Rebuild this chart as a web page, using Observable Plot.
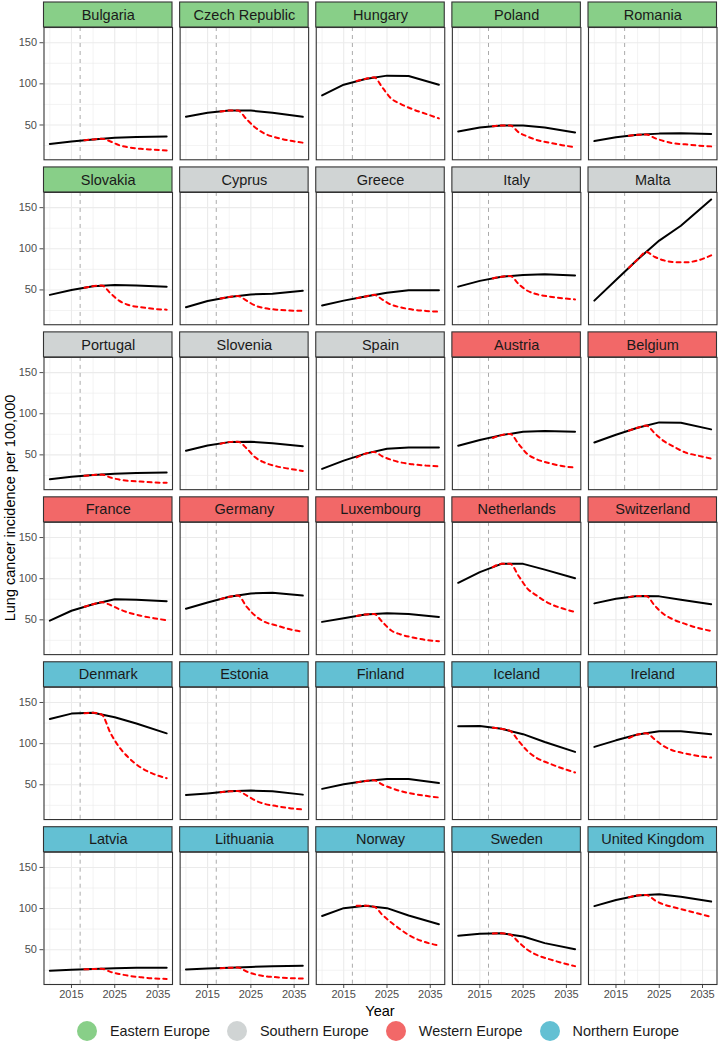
<!DOCTYPE html>
<html>
<head>
<meta charset="utf-8">
<script src="https://cdn.jsdelivr.net/npm/d3@7"></script>
<script src="https://cdn.jsdelivr.net/npm/@observablehq/plot@0.6"></script>
<style>
  body { margin: 0; background: #fff; font-family: "Liberation Sans", Arial, Helvetica, sans-serif; }
  #wrap { position: relative; width: 719px; height: 1043px; overflow: hidden; }
  #chart { position: absolute; left: 0; top: 0; }
  #ylab { position: absolute; left: 10px; top: 508px; transform: translate(-50%, -50%) rotate(-90deg);
          font-size: 14.5px; white-space: nowrap; color: #000; }
  #xlab { position: absolute; left: 380px; top: 1011px; transform: translate(-50%, -50%);
          font-size: 14.5px; color: #000; }
  #legend { position: absolute; left: 77px; top: 1031px; transform: translateY(-50%);
            display: flex; align-items: center; gap: 17px; font-size: 14.4px; color: #1a1a1a; }
  .item { display: flex; align-items: center; }
  .dot { width: 20px; height: 20px; border-radius: 50%; margin-right: 13px; }
</style>
</head>
<body>
<div id="wrap">
  <div id="chart"></div>
  <div id="ylab">Lung cancer incidence per 100,000</div>
  <div id="xlab">Year</div>
  <div id="legend"></div>
</div>
<script>
// ---------- data ----------
const countries = ["Bulgaria","Czech Republic","Hungary","Poland","Romania",
  "Slovakia","Cyprus","Greece","Italy","Malta",
  "Portugal","Slovenia","Spain","Austria","Belgium",
  "France","Germany","Luxembourg","Netherlands","Switzerland",
  "Denmark","Estonia","Finland","Iceland","Ireland",
  "Latvia","Lithuania","Norway","Sweden","United Kingdom"];
const regions = ["Eastern Europe","Eastern Europe","Eastern Europe","Eastern Europe","Eastern Europe",
  "Eastern Europe","Southern Europe","Southern Europe","Southern Europe","Southern Europe",
  "Southern Europe","Southern Europe","Southern Europe","Western Europe","Western Europe",
  "Western Europe","Western Europe","Western Europe","Western Europe","Western Europe",
  "Northern Europe","Northern Europe","Northern Europe","Northern Europe","Northern Europe",
  "Northern Europe","Northern Europe","Northern Europe","Northern Europe","Northern Europe"];
const regionNames = ["Eastern Europe","Southern Europe","Western Europe","Northern Europe"];
const regionColors = ["#88CF88","#D0D4D4","#F26868","#63C0D3"];

// solid black line (projection)
const projYears = [2010, 2015, 2020, 2025, 2030, 2037];
const projected = [
  [27,30,32.5,34.5,35.5,36],
  [60,65,67.5,67.5,65,60],
  [86,99,106,110,109.5,99],
  [42,47,49.5,49.5,47,41],
  [30.5,35,38,39.5,40,39],
  [44,50,54.5,56,55.5,54],
  [29,36.5,41.5,44.5,45.5,49],
  [31,37,42,46.5,49.5,49.5],
  [54,61,66,68,69,67.5],
  [37,62,87,110,128,160],
  [20.5,23.5,25.5,27,28,28.5],
  [55,61.5,65.5,66,64,60.5],
  [33,43,51.5,57.5,59,59],
  [61,68,74,78,79,78],
  [65,74.5,83,89.5,89,81],
  [49,61,69,75,74.5,72.5],
  [63.5,71,78,82,83,79.5],
  [47.5,52,56.5,58,57,53.5],
  [95,108,118,118,111,100.5],
  [70,75.5,79,78.5,74.5,69],
  [130,136.5,137.5,132,124.5,112.5],
  [37.5,39.5,42,43,42,38],
  [45,50.5,54.5,57,57,52],
  [121,121.5,118,111.5,102,90],
  [96,104,111,115,115,111.5],
  [24.5,25.5,26.5,27.5,28,28],
  [26,27,28,29,30,30.5],
  [91,100.5,103.5,100.5,91.5,81],
  [67,69.5,70,66,58,50.5],
  [103,110.5,116,117.5,114.5,108.5]
];

// red dashed line (scenario)
const scenYears = [2018, 2020, 2022, 2024, 2026, 2028, 2031, 2034, 2037];
const scenario = [
  [31.5,32.5,33.3,30,25.5,23,21,20,19],
  [66.5,67.5,67.5,57,47,40,34.5,31,28.5],
  [103.5,106,108,95,82,76,69,63.5,58],
  [48.5,49.5,49.5,41,36,32,28.5,25.5,23],
  [37,38,38.5,34,30.5,28,26.5,25,24],
  [52.7,54.5,55.5,46,37,32,29,27,26],
  [39.5,41.5,42.7,37,31,28,26,25,24.5],
  [40,42,44,38,32,29,26,24.5,23.5],
  [64,66,67,57,49,45,42,40,38.5],
  [77,87,96,90,86,84,83.5,86,92],
  [24.5,25.5,26,22.5,20,18.5,17.5,16.5,16],
  [63.5,65.5,66,58,47,41,36,33,30.5],
  [47,51.5,53.5,48,44,41,38.5,37,36],
  [70.5,74,75.5,63,51,45,40,36.5,34.5],
  [79.5,83,85.6,76,67,61,53,49,45.5],
  [65.8,69,71.4,68,63,59,55,52,49.5],
  [75.2,78,79.6,66,55,48,43,38.5,35.5],
  [54.7,56.5,57.1,47,37,32.5,28.5,25.5,24],
  [114,118,118,103,88,80,70,64,59.5],
  [77.6,79,78.8,67,57,51,45,40,36.5],
  [137,137.5,135.3,113,96,84,71,63,58],
  [41,42,42.4,37,31,27,24,21.5,20],
  [52.9,54.5,55.5,50,46,42.5,39,36.5,34.5],
  [119.4,118,115.4,103,91,83,76,70,65],
  [106.8,111,112.6,105,97,92,88,85,83],
  [26.1,26.5,26.9,23,20.5,18.5,16.5,15,14.5],
  [27.6,28,28.4,23.5,20,18,16.5,15.5,15],
  [103.3,103.5,102.3,92,83,75,65,59,55],
  [69.8,70,68.4,59,50,44,38.5,34,30],
  [113.8,116,116.6,110,105,102,98,94,90]
];

const refYear = [2017];
const xTicks = [2015, 2025, 2035];
const xMinor = [2010, 2020, 2030];
const yTicks = [50, 100, 150];
const yMinor = [25, 75, 125];

// ---------- build tables ----------
const nCols = 5;
const panels = countries.map((c, i) => ({country: c, region: regions[i], col: i % nCols, row: Math.floor(i / nCols)}));
const projRows = panels.flatMap((p, i) => projYears.map((yr, j) => ({...p, year: yr, value: projected[i][j]})));
const scenRows = panels.flatMap((p, i) => scenYears.map((yr, j) => ({...p, year: yr, value: scenario[i][j]})));

const xDom = [2008.65, 2038.35];
const yDom = [7.7, 168.5];
const gridCol = "#EBEBEB";
const borderCol = "#333333";

const chart = Plot.plot({
  width: 719,
  height: 1003,
  marginTop: 27,
  marginLeft: 43.5,
  marginRight: 2.5,
  marginBottom: 19,
  style: {fontFamily: '"Liberation Sans", Arial, Helvetica, sans-serif', fontSize: "11px", color: "#4D4D4D", background: "white"},
  fx: {axis: null, domain: d3.range(5), paddingInner: 0.056, paddingOuter: 0, round: false},
  fy: {axis: null, domain: d3.range(6), paddingInner: 0.198, paddingOuter: 0, round: false},
  x: {domain: xDom, ticks: xTicks, tickFormat: "d", label: null, tickSize: 4, tickPadding: 2},
  y: {domain: yDom, ticks: yTicks, label: null, tickSize: 4, tickPadding: 3},
  color: {domain: regionNames, range: regionColors},
  marks: [
    Plot.ruleX(xMinor, {stroke: gridCol, strokeWidth: 0.6}),
    Plot.ruleY(yMinor, {stroke: gridCol, strokeWidth: 0.6}),
    Plot.ruleX(xTicks, {stroke: gridCol, strokeWidth: 1.1}),
    Plot.ruleY(yTicks, {stroke: gridCol, strokeWidth: 1.1}),
    Plot.ruleX(refYear, {stroke: "#ABABAB", strokeWidth: 1, strokeDasharray: "4,4"}),
    Plot.line(projRows, {x: "year", y: "value", fx: "col", fy: "row", z: "country", stroke: "#000000", strokeWidth: 2}),
    Plot.line(scenRows, {x: "year", y: "value", fx: "col", fy: "row", z: "country", stroke: "#FF0000", strokeWidth: 2, strokeDasharray: "4,4", curve: "monotone-x"}),
    Plot.frame({stroke: borderCol, strokeWidth: 1.1}),
    Plot.rect(panels, {fx: "col", fy: "row", x1: () => xDom[0], x2: () => xDom[1], y1: () => yDom[1], y2: () => yDom[1],
      insetTop: -25, fill: "region", stroke: borderCol, strokeWidth: 1.1}),
    Plot.text(panels, {fx: "col", fy: "row", x: () => (xDom[0] + xDom[1]) / 2, y: () => yDom[1], dy: -12.5,
      text: "country", fontSize: 14.5, fill: "#1A1A1A"})
  ]
});
document.getElementById("chart").appendChild(chart);

// legend
const legend = document.getElementById("legend");
regionNames.forEach((name, i) => {
  const item = document.createElement("div");
  item.className = "item";
  const dot = document.createElement("span");
  dot.className = "dot";
  dot.style.background = regionColors[i];
  item.appendChild(dot);
  item.appendChild(document.createTextNode(name));
  legend.appendChild(item);
});
</script>
</body>
</html>
